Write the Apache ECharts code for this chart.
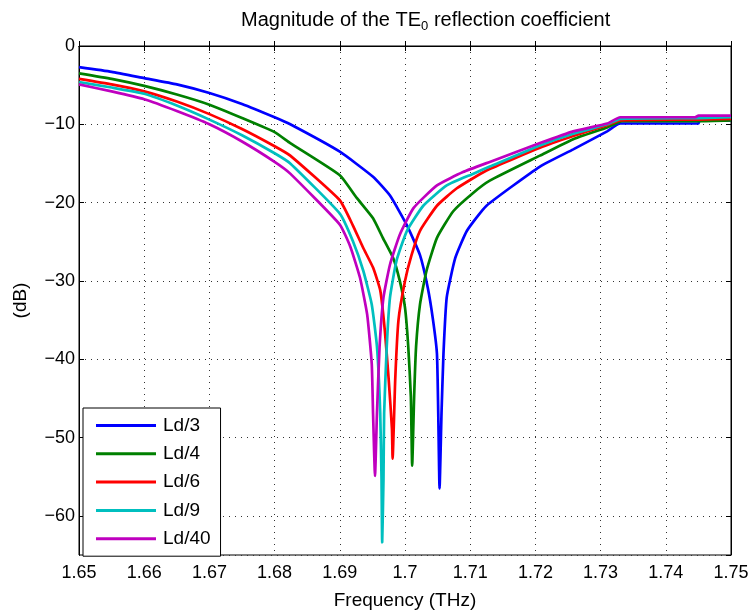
<!DOCTYPE html>
<html>
<head>
    <meta charset="utf-8">
    <title>TE0 reflection coefficient</title>
    <script src="https://cdn.jsdelivr.net/npm/echarts@6/dist/echarts.min.js"></script>
</head>
<body style="margin:0">
    <div id="main" style="width:755px;height:615px;"></div>
    <script type="text/javascript">
        // frequency (THz) / magnitude (dB)
        var ld3F  = [1.65, 1.655, 1.66, 1.665, 1.67, 1.675, 1.68, 1.6824, 1.69, 1.6951, 1.6977, 1.7003, 1.7023, 1.7035, 1.7043, 1.7049, 1.7051, 1.7053, 1.7056, 1.7059, 1.7064, 1.7077, 1.7095, 1.7125, 1.7207, 1.7258, 1.731, 1.733, 1.745, 1.7452, 1.75];
        var ld3Db = [-2.7, -3.3, -4.1, -4.9, -6.0, -7.4, -9.1, -10.0, -13.5, -16.7, -19.1, -22.9, -26.7, -30.9, -35.0, -39.3, -46.9, -56.5, -46.9, -39.3, -32.1, -27.1, -23.6, -20.4, -15.4, -13.2, -10.9, -9.9, -9.9, -9.5, -9.5];

        var ld4F  = [1.65, 1.655, 1.66, 1.665, 1.67, 1.675, 1.68, 1.6824, 1.69, 1.6926, 1.6951, 1.6966, 1.6982, 1.6992, 1.7, 1.7005, 1.7009, 1.7011, 1.7014, 1.7017, 1.7023, 1.7033, 1.7049, 1.7074, 1.7104, 1.713, 1.7207, 1.7258, 1.731, 1.7333, 1.745, 1.75];
        var ld4Db = [-3.5, -4.2, -5.1, -6.2, -7.5, -9.2, -11.0, -12.4, -16.5, -19.4, -22.0, -24.5, -27.1, -30.0, -33.4, -38.4, -44.8, -53.6, -44.8, -38.4, -33.0, -28.7, -24.5, -21.1, -18.8, -17.2, -14.0, -11.9, -10.4, -9.6, -9.6, -9.5];

        var ld6F  = [1.65, 1.655, 1.66, 1.665, 1.67, 1.675, 1.68, 1.6824, 1.69, 1.692, 1.6936, 1.6951, 1.6962, 1.6969, 1.6975, 1.698, 1.6981, 1.6985, 1.699, 1.7, 1.701, 1.7023, 1.7049, 1.7079, 1.7125, 1.7207, 1.7258, 1.731, 1.733, 1.745, 1.75];
        var ld6Db = [-4.2, -4.9, -5.8, -7.1, -8.7, -10.6, -12.8, -14.0, -19.7, -22.9, -25.8, -28.3, -31.2, -36.3, -42.6, -48.9, -52.7, -42.6, -35.0, -30.0, -26.7, -23.6, -20.4, -18.2, -15.9, -13.0, -11.5, -10.1, -9.5, -9.4, -9.3];

        var ld9F  = [1.65, 1.655, 1.66, 1.665, 1.67, 1.675, 1.68, 1.6824, 1.69, 1.692, 1.6936, 1.6949, 1.6957, 1.6962, 1.6964, 1.6965, 1.6967, 1.6968, 1.6972, 1.6977, 1.6987, 1.7003, 1.7028, 1.7064, 1.7105, 1.713, 1.7207, 1.7258, 1.731, 1.733, 1.745, 1.75];
        var ld9Db = [-4.6, -5.3, -6.1, -7.6, -9.4, -11.4, -13.7, -15.0, -21.4, -24.9, -28.7, -33.0, -38.4, -46.9, -55.3, -63.4, -55.3, -46.9, -38.4, -32.1, -27.4, -23.6, -20.4, -17.8, -16.3, -15.4, -12.7, -11.2, -10.0, -9.3, -9.2, -9.1];

        var ld40F  = [1.65, 1.655, 1.66, 1.665, 1.67, 1.675, 1.68, 1.6824, 1.69, 1.6916, 1.6931, 1.6942, 1.6949, 1.6951, 1.6954, 1.6957, 1.6961, 1.6967, 1.6977, 1.6992, 1.7013, 1.7049, 1.7089, 1.713, 1.7207, 1.7258, 1.731, 1.733, 1.7445, 1.745, 1.75];
        var ld40Db = [-4.9, -5.8, -6.8, -8.3, -10.0, -12.2, -14.8, -16.3, -22.8, -25.6, -29.6, -34.3, -40.6, -46.9, -54.9, -46.9, -38.4, -32.1, -27.9, -24.1, -20.7, -17.8, -16.1, -14.8, -12.4, -10.9, -9.9, -9.1, -9.1, -8.9, -8.9];

        var names  = ['Ld/3', 'Ld/4', 'Ld/6', 'Ld/9', 'Ld/40'];
        var colors = ['#0000ff', '#008000', '#ff0000', '#00bfbf', '#bf00bf'];
        var freqs  = [ld3F, ld4F, ld6F, ld9F, ld40F];
        var mags   = [ld3Db, ld4Db, ld6Db, ld9Db, ld40Db];

        var FONT = 'Liberation Sans, Arial, Helvetica, sans-serif';

        function pairs(f, m) {
            return f.map(function (v, i) { return [v, m[i]]; });
        }
        function minus(v) {
            return String(v).replace('-', '\u2212');
        }

        var myChart = echarts.init(document.getElementById('main'));

        var series = names.map(function (n, i) {
            return {
                name: n,
                type: 'line',
                data: pairs(freqs[i], mags[i]),
                symbol: 'none',
                smooth: 0.15,
                color: colors[i],
                lineStyle: {width: 2.7, color: colors[i]}
            };
        });

        var gridLine = {show: true, lineStyle: {color: '#333', width: 1, type: [1, 5]}};

        option = {
            animation: false,
            backgroundColor: '#fff',
            textStyle: {fontFamily: FONT},
            title: {
                text: 'Magnitude of the TE{sub|0} reflection coefficient',
                left: 236,
                top: 3,
                textStyle: {
                    fontFamily: FONT, fontSize: 20, fontWeight: 'normal', color: '#000',
                    rich: {sub: {fontSize: 13, fontFamily: FONT, padding: [12, 0, 0, 0]}}
                }
            },
            legend: {
                orient: 'vertical',
                left: 83,
                top: 408,
                padding: [8, 10, 8, 13],
                icon: 'rect',
                itemWidth: 60,
                itemHeight: 3,
                itemGap: 9.3,
                backgroundColor: '#fff',
                borderColor: '#000',
                borderWidth: 1,
                textStyle: {fontFamily: FONT, fontSize: 19, lineHeight: 19, color: '#000', padding: [0, 0, 0, 2]},
                data: names
            },
            grid: {left: 79, right: 24, top: 46, bottom: 55, show: true, borderColor: '#000', borderWidth: 1},
            xAxis: [{
                type: 'value',
                min: 1.65, max: 1.75, interval: 0.01,
                name: 'Frequency (THz)',
                nameLocation: 'middle',
                nameGap: 36,
                nameTextStyle: {fontFamily: FONT, fontSize: 19, color: '#000'},
                axisLine: {lineStyle: {color: '#000', width: 1}},
                axisTick: {inside: true, length: 5, lineStyle: {color: '#000'}},
                axisLabel: {
                    fontFamily: FONT, fontSize: 18, color: '#000', margin: 9,
                    formatter: function (v) { return String(parseFloat(v.toFixed(2))); }
                },
                splitLine: gridLine
            }, {
                type: 'value', position: 'top',
                min: 1.65, max: 1.75, interval: 0.01,
                axisLine: {lineStyle: {color: '#000'}},
                axisTick: {inside: true, length: 5, lineStyle: {color: '#000'}},
                axisLabel: {show: false},
                splitLine: {show: false}
            }],
            yAxis: [{
                type: 'value',
                min: -65, max: 0, splitNumber: 7,
                name: '(dB)',
                nameLocation: 'middle',
                nameRotate: 90,
                nameGap: 49,
                nameTextStyle: {fontFamily: FONT, fontSize: 19, color: '#000'},
                axisLine: {lineStyle: {color: '#000', width: 1}},
                axisTick: {inside: true, length: 5, lineStyle: {color: '#000'}},
                axisLabel: {
                    fontFamily: FONT, fontSize: 18, color: '#000', margin: 4,
                    showMinLabel: false,
                    formatter: function (v) { return v === -65 ? '' : minus(v); }
                },
                splitLine: gridLine
            }, {
                type: 'value', position: 'right',
                min: -65, max: 0, splitNumber: 7,
                axisLine: {show: true, lineStyle: {color: '#000'}},
                axisTick: {show: true, inside: true, length: 5, lineStyle: {color: '#000'}},
                axisLabel: {show: false},
                splitLine: {show: false}
            }],
            series: series
        };

        myChart.setOption(option);
    </script>
</body>
</html>
